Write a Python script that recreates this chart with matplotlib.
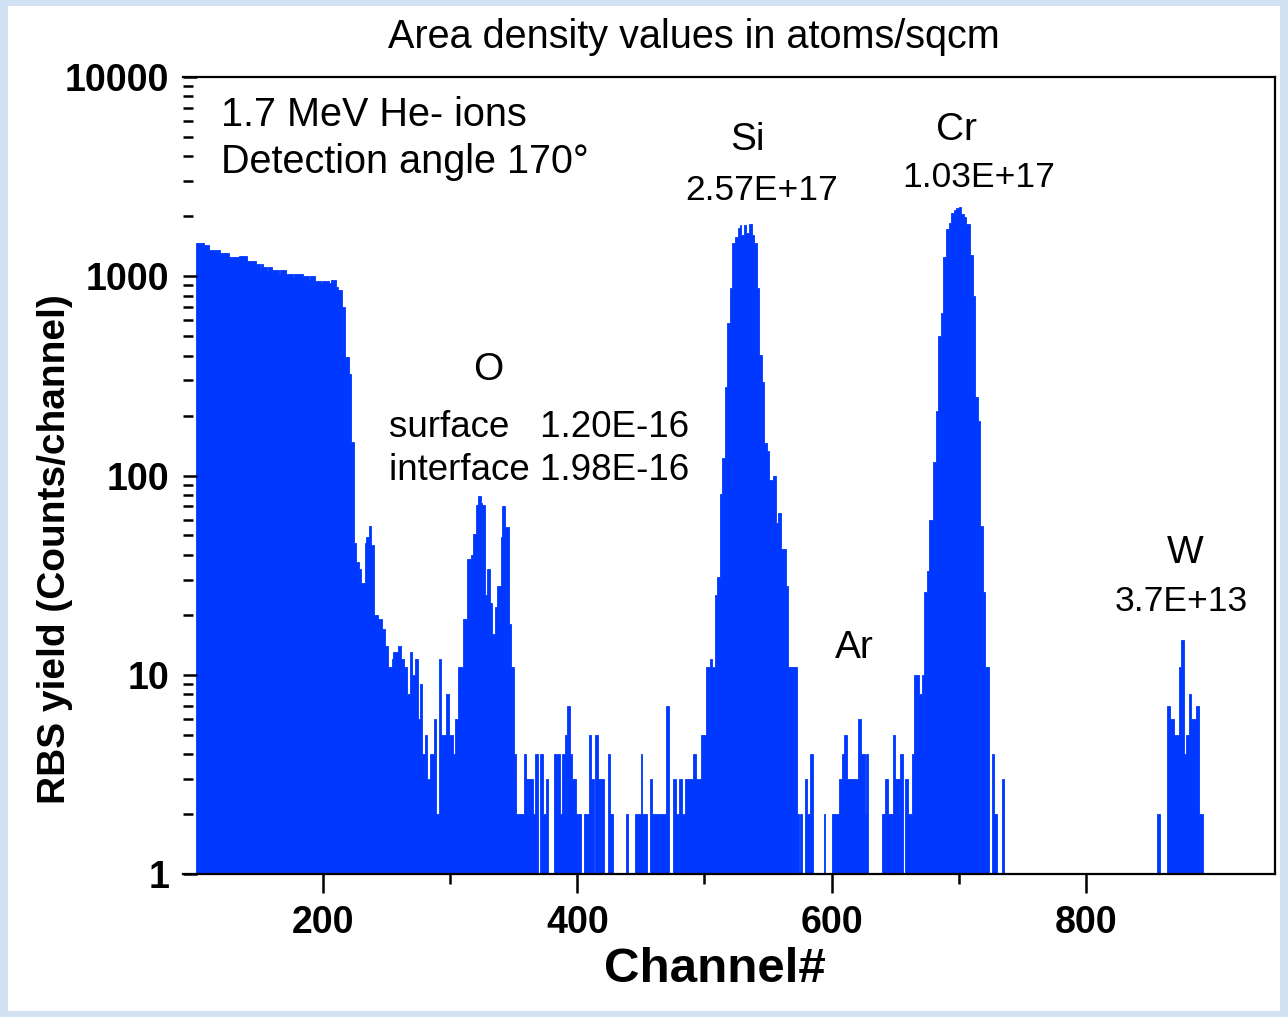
import matplotlib
matplotlib.use("Agg")
import matplotlib.pyplot as plt
import numpy as np
from matplotlib.patches import Rectangle
from matplotlib.ticker import FixedLocator, FuncFormatter, LogLocator, NullFormatter

plt.rcParams['font.family'] = ['Liberation Sans', 'DejaVu Sans']

# RBS spectrum: channel where a step starts, counts in it
chan_start = [100, 106, 110, 119, 126, 134, 140, 147, 150, 151, 153, 156, 157, 160, 165, 166,
              171, 176, 177, 184, 189, 190, 194, 198, 199, 205, 206, 210, 212, 215, 217, 220,
              222, 224, 226, 228, 230, 233, 234, 236, 238, 240, 243, 246, 249, 251, 254, 255,
              259, 261, 264, 266, 268, 270, 272, 275, 276, 278, 280, 282, 284, 287, 289, 291,
              293, 297, 299, 302, 304, 306, 310, 313, 316, 318, 320, 322, 324, 325, 327, 329,
              331, 333, 335, 337, 340, 341, 343, 346, 348, 350, 352, 358, 360, 365, 367, 369,
              371, 373, 375, 377, 382, 386, 388, 390, 392, 394, 396, 399, 403, 405, 409, 411,
              413, 414, 416, 421, 424, 426, 428, 438, 440, 445, 450, 451, 455, 457, 459, 470,
              472, 475, 478, 480, 482, 485, 491, 493, 497, 501, 504, 506, 508, 510, 512, 514,
              516, 518, 520, 522, 524, 526, 528, 529, 531, 533, 535, 537, 539, 541, 543, 545,
              547, 549, 551, 554, 556, 558, 560, 564, 566, 573, 574, 575, 577, 579, 581, 583,
              585, 594, 595, 600, 606, 608, 610, 612, 621, 623, 626, 627, 629, 640, 642, 644,
              648, 650, 654, 656, 658, 660, 663, 665, 669, 671, 673, 675, 677, 680, 682, 684,
              686, 688, 690, 692, 694, 696, 698, 700, 702, 704, 706, 709, 711, 713, 715, 717,
              719, 721, 724, 726, 728, 730, 734, 736, 856, 858, 864, 866, 869, 873, 875, 877,
              879, 881, 883, 887, 889]
chan_end = 892
counts = [1472, 1432, 1352, 1301, 1242, 1260, 1195, 1158, 1100, 1158, 1110, 1060, 1110, 1072, 1030, 1072,
          1023, 990, 1023, 1000, 960, 1000, 950, 930, 950, 930, 955, 885, 851, 702, 394, 325,
          147, 46, 37, 34, 29, 46, 49, 56, 45, 20, 19, 17, 14, 11, 12, 13,
          14, 12, 11, 8, 13, 10, 12, 6, 9, 4, 5, 3, 4, 6, 2, 12,
          5, 8, 5, 4, 6, 11, 19, 38, 40, 51, 71, 79, 73, 71, 25, 34,
          23, 16, 22, 28, 49, 70, 55, 18, 11, 4, 2, 4, 3, 2, 4, 0,
          4, 2, 3, 0, 4, 2, 4, 5, 7, 4, 3, 2, 0, 2, 5, 3,
          0, 5, 3, 0, 4, 2, 0, 2, 0, 2, 4, 2, 0, 3, 2, 7,
          0, 3, 2, 3, 2, 3, 4, 3, 5, 11, 12, 11, 25, 31, 81, 122,
          277, 583, 868, 1461, 1566, 1750, 1803, 1607, 1803, 1640, 1830, 1607, 1472, 868, 402, 296,
          146, 132, 95, 100, 58, 65, 43, 28, 11, 2, 0, 2, 0, 3, 2, 4,
          0, 2, 0, 2, 3, 4, 5, 3, 6, 4, 2, 4, 0, 2, 3, 2,
          5, 3, 4, 0, 3, 2, 4, 10, 8, 10, 26, 33, 60, 117, 211, 500,
          655, 1250, 1717, 1854, 2081, 2147, 2189, 2230, 2048, 1985, 1838, 1275, 794, 247, 188, 56,
          26, 11, 0, 4, 2, 0, 3, 0, 2, 0, 7, 6, 5, 11, 15, 4,
          5, 8, 6, 7, 2]

x_major = [200, 400, 600, 800]
x_minor = [300, 500, 700]
y_major = [1, 10, 100, 1000, 10000]

blue = '#0038ff'

fig = plt.figure(figsize=(12.88, 10.17), dpi=100)
fig.patch.set_facecolor('#d3e2f2')
fig.patches.append(Rectangle((8 / 1288, 6 / 1017), 1272 / 1288, 1005 / 1017,
                             transform=fig.transFigure, facecolor='white',
                             edgecolor='none', zorder=-5))

ax = fig.add_axes([183 / 1288, 1 - 874 / 1017, 1092 / 1288, 797 / 1017])
ax.set_facecolor('none')
ax.set_zorder(2)

edges = np.array(chan_start + [chan_end], dtype=float)
vals = np.array(counts, dtype=float)
ax.stairs(np.where(vals > 0, vals, 0.5), edges, fill=True, baseline=0.5,
          facecolor=blue, edgecolor=blue, linewidth=0.6)

ax.set_yscale('log')
ax.set_xlim(89.8, 948.8)
ax.set_ylim(1, 10000)

for s in ['top', 'right', 'bottom']:
    ax.spines[s].set_linewidth(1.6)
ax.spines['left'].set_visible(False)

ax.xaxis.set_major_locator(FixedLocator(x_major))
ax.xaxis.set_minor_locator(FixedLocator(x_minor))
ax.yaxis.set_major_locator(FixedLocator(y_major))
ax.yaxis.set_minor_locator(LogLocator(base=10, subs=np.arange(2, 10)))
ax.yaxis.set_major_formatter(FuncFormatter(lambda v, p: '%d' % v))
ax.yaxis.set_minor_formatter(NullFormatter())

ax.tick_params(axis='x', which='major', direction='out', length=14, width=1.8,
               labelsize=27, pad=8, top=False)
ax.tick_params(axis='x', which='minor', direction='out', length=7, width=1.8, top=False)
ax.tick_params(axis='y', which='major', direction='in', length=10, width=1.8,
               labelsize=27, pad=10, right=False)
ax.tick_params(axis='y', which='minor', direction='in', length=7, width=1.8, right=False)
for lab in ax.get_xticklabels() + ax.get_yticklabels():
    lab.set_fontweight('bold')

ax.set_xlabel('Channel#', fontsize=35.5, fontweight='bold')
ax.xaxis.label.set_va('center')
ax.xaxis.set_label_coords(0.487, -0.12)
ax.set_ylabel('RBS yield (Counts/channel)', fontsize=28, fontweight='bold')
ax.yaxis.label.set_va('center')
ax.yaxis.set_label_coords(-0.117, 0.407)

fig.text(694 / 1288, 1 - 37 / 1017, 'Area density values in atoms/sqcm',
         ha='center', va='center', fontsize=28.5)

# annotations
ax.text(120, 6430, '1.7 MeV He- ions', fontsize=28.5, ha='left', va='center')
ax.text(120, 3740, 'Detection angle 170°', fontsize=28.5, ha='left', va='center')
ax.text(534, 4820, 'Si', fontsize=28, ha='center', va='center')
ax.text(545, 2704, '2.57E+17', fontsize=25.5, ha='center', va='center')
ax.text(698, 5410, 'Cr', fontsize=28, ha='center', va='center')
ax.text(716, 3142, '1.03E+17', fontsize=25.5, ha='center', va='center')
ax.text(330, 338, 'O', fontsize=28, ha='center', va='center')
ax.text(252, 175, 'surface   1.20E-16', fontsize=26.5, ha='left', va='center')
ax.text(252, 106, 'interface 1.98E-16', fontsize=26.5, ha='left', va='center')
ax.text(618, 13.6, 'Ar', fontsize=28, ha='center', va='center')
ax.text(878, 40.8, 'W', fontsize=28, ha='center', va='center')
ax.text(875, 23.2, '3.7E+13', fontsize=25.5, ha='center', va='center')

fig.savefig('out.png', dpi=100, facecolor=fig.get_facecolor())
